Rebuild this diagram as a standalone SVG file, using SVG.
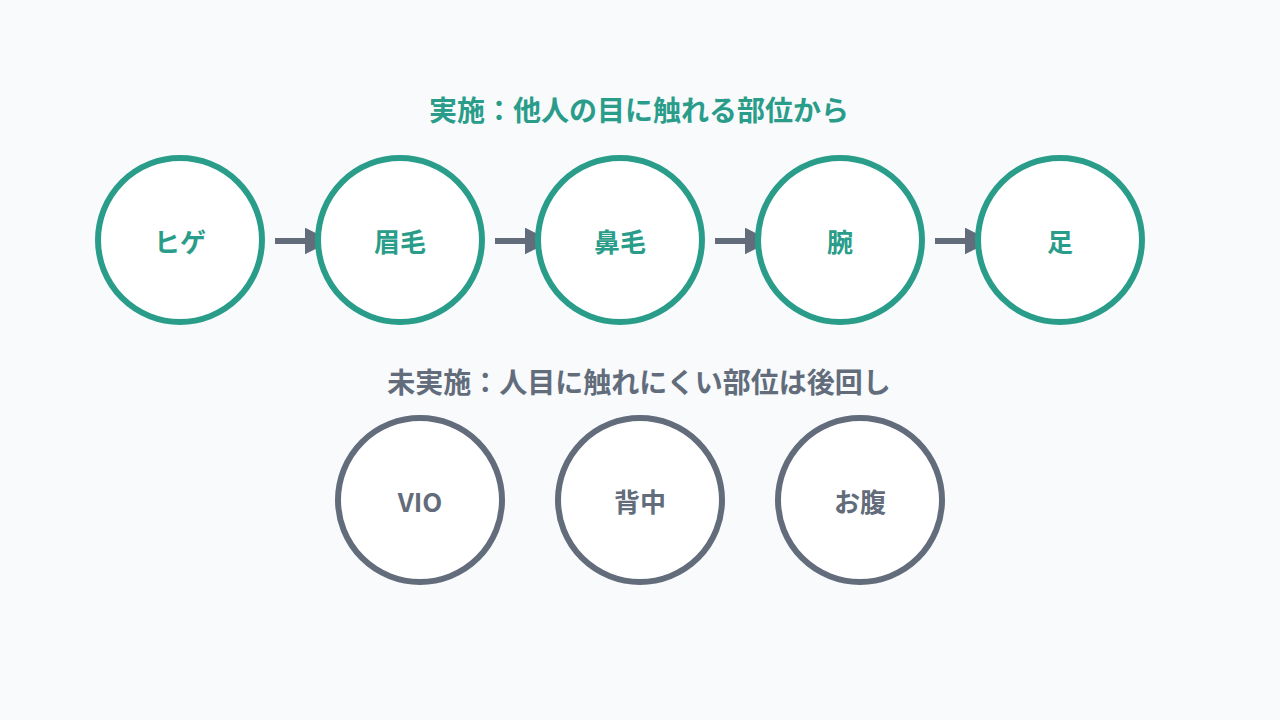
<svg xmlns="http://www.w3.org/2000/svg" width="1280" height="720" viewBox="0 0 1280 720">
<style>
.t{font-family:"Noto Sans CJK JP","Noto Sans",sans-serif;font-weight:bold;text-anchor:middle;dominant-baseline:central}
.g{fill:#2a9d8a}.s{fill:#626c7b}
.cg{fill:#fff;stroke:#2a9d8a;stroke-width:6}
.cs{fill:#fff;stroke:#626c7b;stroke-width:6}
.a{stroke:#626c7b;stroke-width:6;fill:none;marker-end:url(#m)}
</style>
<defs><marker id="m" viewBox="0 0 10 10" refX="9" refY="5" markerWidth="4.5" markerHeight="4.5" orient="auto" markerUnits="strokeWidth"><path d="M0,0L10,5L0,10z" fill="#626c7b"/></marker></defs>
<rect width="1280" height="720" fill="#f8fafc"/>
<text class="t g" x="639" y="109" font-size="28">実施：他人の目に触れる部位から</text>
<text class="t s" x="639" y="381" font-size="28">未実施：人目に触れにくい部位は後回し</text>
<g id="connectors">
<path class="a" d="M275,241H329"/><path class="a" d="M495,241H549"/><path class="a" d="M715,241H769"/><path class="a" d="M935,241H989"/>
</g>
<g id="n1"><circle class="cg" cx="180" cy="240" r="82"/><text class="t g" x="180" y="240" font-size="26">ヒゲ</text></g>
<g id="n2"><circle class="cg" cx="400" cy="240" r="82"/><text class="t g" x="400" y="240" font-size="26">眉毛</text></g>
<g id="n3"><circle class="cg" cx="620" cy="240" r="82"/><text class="t g" x="620" y="240" font-size="26">鼻毛</text></g>
<g id="n4"><circle class="cg" cx="840" cy="240" r="82"/><text class="t g" x="840" y="240" font-size="26">腕</text></g>
<g id="n5"><circle class="cg" cx="1060" cy="240" r="82"/><text class="t g" x="1060" y="240" font-size="26">足</text></g>
<g id="n6"><circle class="cs" cx="420" cy="500" r="82"/><text class="t s" x="420" y="500" font-size="26">VIO</text></g>
<g id="n7"><circle class="cs" cx="640" cy="500" r="82"/><text class="t s" x="640" y="500" font-size="26">背中</text></g>
<g id="n8"><circle class="cs" cx="860" cy="500" r="82"/><text class="t s" x="860" y="500" font-size="26">お腹</text></g>
</svg>
